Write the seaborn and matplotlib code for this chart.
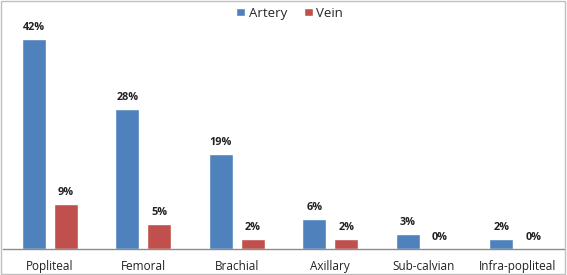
"""
Artery vs vein injury sites - grouped bar chart
"""
import pandas as pd
import matplotlib
matplotlib.use("Agg")
import matplotlib.pyplot as plt
import seaborn as sns

sites = ["Popliteal", "Femoral", "Brachial", "Axillary", "Sub-calvian", "Infra-popliteal"]
artery = [42, 28, 19, 6, 3, 2]
vein = [9, 5, 2, 2, 0, 0]

df = pd.DataFrame({
    "site": sites * 2,
    "value": artery + vein,
    "vessel": ["Artery"] * len(sites) + ["Vein"] * len(sites),
})

sns.set_style("white")
plt.rcParams["font.family"] = ["Open Sans", "DejaVu Sans"]

fig = plt.figure(figsize=(5.67, 2.75), dpi=100)
ax = fig.add_axes([3 / 567, 26 / 275, 561 / 567, 230 / 275])

sns.barplot(data=df, x="site", y="value", hue="vessel", ax=ax,
            palette={"Artery": "#4F81BD", "Vein": "#C0504D"},
            width=0.68, gap=0.24, saturation=1)

# labels above bars
for cont in ax.containers:
    ax.bar_label(cont, fmt="%d%%", padding=4.5, fontsize=7.8, fontweight="bold", color="#222222")

ax.set_ylim(0, 46)
ax.set_xlim(-0.5, len(sites) - 0.5)
ax.set_xlabel("")
ax.set_ylabel("")
ax.set_yticks([])
ax.tick_params(axis="x", length=0, labelsize=8.5, pad=8, colors="#222222")
for s in ["top", "left", "right"]:
    ax.spines[s].set_visible(False)
ax.spines["bottom"].set_color("#8C8C8C")
ax.spines["bottom"].set_linewidth(1)

ax.legend(loc="upper center", bbox_to_anchor=(0.511, 1.105), ncol=2, frameon=False,
          fontsize=9.5, handlelength=0.65, handleheight=0.65, handletextpad=0.3,
          columnspacing=1.3)

# outer frame
fig.patches.append(plt.Rectangle((0.002, 0.004), 0.995, 0.992, transform=fig.transFigure,
                                 fill=False, edgecolor="#BFBFBF", linewidth=1))

plt.savefig("out.png", dpi=100)
